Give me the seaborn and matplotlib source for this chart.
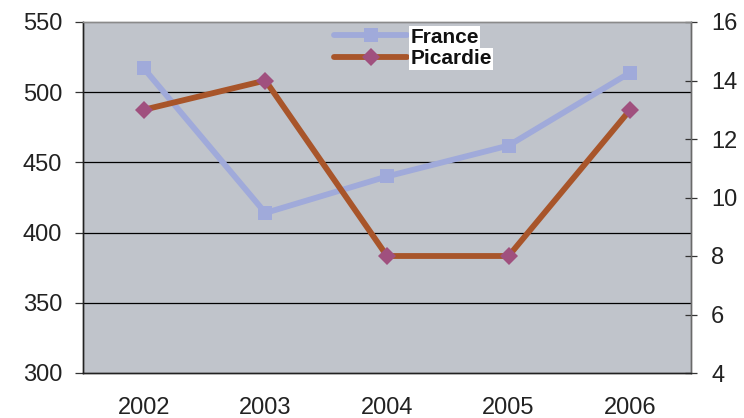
import matplotlib
matplotlib.use("Agg")
import matplotlib.pyplot as plt
import seaborn as sns
import pandas as pd
import numpy as np

years = ["2002", "2003", "2004", "2005", "2006"]
france = [517, 414, 440, 462, 514]
picardie = [13, 14, 8, 8, 13]

sns.set_theme(style="white")
plt.rcParams['font.family'] = ['Liberation Sans', 'DejaVu Sans']

df = pd.DataFrame({"pos": np.arange(len(years)), "France": france, "Picardie": picardie})

fig = plt.figure(figsize=(7.44, 4.18), dpi=100)
ax = fig.add_axes([83/744, 45/418, (691-83)/744, (373-22)/418])
ax.set_facecolor("#C0C4CB")

c_fr = "#A0AADA"
c_pi = "#A8552A"
c_pim = "#A0507E"

sns.lineplot(data=df, x="pos", y="France", ax=ax, color=c_fr, lw=4.2,
             marker="s", markersize=10, markeredgewidth=0, markerfacecolor=c_fr,
             label="France", legend=False, zorder=3)
ax2 = ax.twinx()
sns.lineplot(data=df, x="pos", y="Picardie", ax=ax2, color=c_pi, lw=4.2,
             marker="D", markersize=9.5, markeredgewidth=0, markerfacecolor=c_pim,
             label="Picardie", legend=False, zorder=3)

ax.set_xlim(-0.5, len(years) - 0.5)
ax.set_ylim(300, 550)
ax2.set_ylim(4, 16)
ax.set_yticks([300, 350, 400, 450, 500, 550])
ax2.set_yticks([4, 6, 8, 10, 12, 14, 16])
for y in [350, 400, 450, 500]:
    ax.axhline(y, color="black", lw=0.9, zorder=1)

ax.set_xticks(np.arange(-0.5, len(years), 1.0))
ax.set_xticklabels([])
ax.set_xticks(np.arange(len(years)), minor=True)
ax.set_xticklabels(years, minor=True)
ax.tick_params(axis="x", which="minor", length=0, pad=17, labelsize=17, labelcolor="#222222")
ax.tick_params(axis="x", which="major", length=8, direction="out", width=0.9, color="#333333")
ax.tick_params(axis="y", length=6, direction="out", width=0.9, labelsize=17, pad=9,
               color="#333333", labelcolor="#222222")
ax2.tick_params(axis="y", length=9, direction="inout", width=0.9, labelsize=17, pad=10,
                color="#333333", labelcolor="#222222")
ax.set_xlabel("")
ax.set_ylabel("")
ax2.set_ylabel("")

for a in (ax, ax2):
    a.spines["top"].set_color("#8A8A8A")
    a.spines["right"].set_color("#6A6A6A")
    a.spines["left"].set_color("#222222")
    a.spines["bottom"].set_color("#222222")
    for s in a.spines.values():
        s.set_linewidth(1.0)

h1, l1 = ax.get_legend_handles_labels()
h2, l2 = ax2.get_legend_handles_labels()
leg = ax2.legend(h1 + h2, l1 + l2, loc="upper left", bbox_to_anchor=(0.410, 0.99),
                 frameon=False, fontsize=15, handlelength=3.5, handletextpad=0.15,
                 labelspacing=0.12, borderpad=0.1, borderaxespad=0.0)
for t in leg.get_texts():
    t.set_fontweight("bold")
    t.set_color("#111111")
    t.set_bbox(dict(facecolor="white", edgecolor="none", pad=1))

fig.savefig("out.png", dpi=100)
